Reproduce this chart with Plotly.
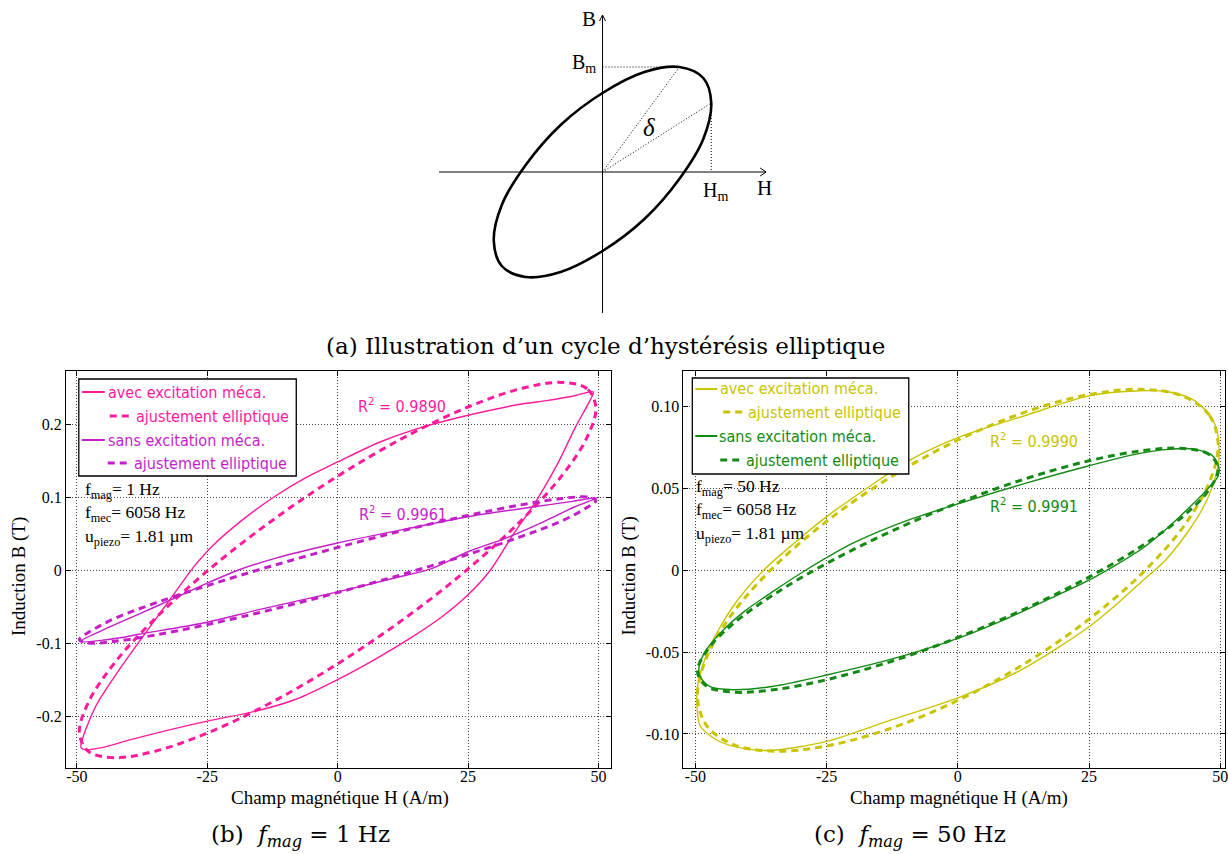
import plotly.graph_objects as go

# ---------------- data ----------------
# (a) illustration ellipse (arbitrary units, H horizontal, B vertical)
ILL_H = [109, 101, 77, 42, 0, -42, -77, -101, -109, -101, -77, -42, 0, 42, 77, 101, 109]
ILL_B = [69, 94, 105, 100, 79, 47, 7, -33, -69, -94, -105, -100, -79, -47, -7, 33, 69]

# (b) f_mag = 1 Hz
B1_AVEC_H = [49.0, 45.0, 40.0, 35.0, 25.0, 15.0, 8.0, 0.0, -6.0, -12.0, -18.0, -24.0, -27.5,
             -32.0, -36.6, -41.9, -46.4, -49.2, -48.5, -45.0, -40.0, -34.0, -25.0, -15.5, -8.0,
             0.0, 7.0, 14.0, 20.0, 25.0, 29.3, 33.4, 38.1, 42.2, 45.6, 48.2, 49.0]
B1_AVEC_B = [0.244, 0.238, 0.232, 0.227, 0.212, 0.193, 0.175, 0.148, 0.127, 0.101, 0.070,
             0.033, 0.005, -0.039, -0.084, -0.137, -0.187, -0.243, -0.246, -0.243, -0.233, -0.222,
             -0.207, -0.193, -0.177, -0.150, -0.123, -0.093, -0.064, -0.034, 0.000, 0.046,
             0.095, 0.146, 0.196, 0.230, 0.244]
B1_AVEC_FIT_H = [49.5, 47.8, 42.9, 35.0, 24.75, 12.8, 0.0, -12.8, -24.75, -35.0, -42.9, -47.8, -49.5,
                 -47.8, -42.9, -35.0, -24.75, -12.8, 0.0, 12.8, 24.75, 35.0, 42.9, 47.8, 49.5]
B1_AVEC_FIT_B = [0.2226, 0.2483, 0.257, 0.2482, 0.2226, 0.1818, 0.1285, 0.0665, 0.0, -0.0665, -0.1285,
                 -0.1817, -0.2226, -0.2483, -0.257, -0.2482, -0.2226, -0.1818, -0.1285, -0.0665, 0.0,
                 0.0665, 0.1285, 0.1817, 0.2226]
B1_SANS_H = [49.7, 45.0, 38.0, 25.0, 15.0, 0.0, -12.0, -19.0, -25.0, -32.0, -38.0, -44.0, -49.4,
             -41.9, -38.1, -25.0, -15.5, 0.0, 10.9, 18.0, 25.0, 32.0, 38.8, 45.6, 49.7]
B1_SANS_B = [0.099, 0.094, 0.087, 0.073, 0.059, 0.037, 0.016, 0.000, -0.018, -0.041, -0.060, -0.079,
             -0.098, -0.093, -0.088, -0.0715, -0.055, -0.030, -0.011, 0.002, 0.025, 0.043, 0.064,
             0.087, 0.099]
B1_SANS_FIT_H = [49.5, 47.8, 42.9, 35.0, 24.75, 12.8, 0.0, -12.8, -24.75, -35.0, -42.9, -47.8, -49.5,
                 -47.8, -42.9, -35.0, -24.75, -12.8, 0.0, 12.8, 24.75, 35.0, 42.9, 47.8, 49.5]
B1_SANS_FIT_B = [0.0951, 0.0999, 0.0978, 0.0891, 0.0743, 0.0545, 0.0309, 0.0052, -0.0208, -0.0454,
                 -0.0669, -0.0857, -0.0951, -0.0999, -0.0978, -0.0891, -0.0743, -0.0545, -0.0309,
                 -0.0052, 0.0208, 0.0454, 0.0669, 0.0857, 0.0951]

# (c) f_mag = 50 Hz
B50_AVEC_H = [49.8, 49.6, 49.1, 48.2, 44.9, 40.0, 34.7, 25.0, 13.3, 0.0, -9.3, -16.0, -25.3, -31.0,
              -37.0, -42.8, -47.3, -49.5, -49.7, -49.1, -45.8, -40.6, -35.4, -25.0, -13.2, 0.0, 12.0,
              25.0, 30.5, 35.0, 39.5, 43.5, 46.7, 48.6, 49.6, 49.8]
B50_AVEC_B = [0.072, 0.081, 0.088, 0.094, 0.104, 0.109, 0.1096, 0.1065, 0.095, 0.081, 0.067, 0.053,
              0.032, 0.017, 0.000, -0.022, -0.047, -0.069, -0.083, -0.095, -0.104, -0.109, -0.110,
              -0.1045, -0.092, -0.078, -0.061, -0.0345, -0.020, -0.007, 0.006, 0.022, 0.038, 0.052,
              0.064, 0.072]
B50_AVEC_FIT_H = [49.6, 47.9, 43.0, 35.1, 24.8, 12.8, 0.0, -12.8, -24.8, -35.1, -43.0, -47.9, -49.6,
                  -47.9, -43.0, -35.1, -24.8, -12.8, 0.0, 12.8, 24.8, 35.1, 43.0, 47.9, 49.6]
B50_AVEC_FIT_B = [0.0768, 0.0947, 0.1062, 0.1105, 0.1072, 0.0966, 0.0795, 0.0569, 0.0304, 0.0019,
                  -0.0267, -0.0536, -0.0768, -0.0947, -0.1062, -0.1105, -0.1072, -0.0966, -0.0795,
                  -0.0569, -0.0304, -0.0019, 0.0267, 0.0536, 0.0768]
B50_SANS_H = [49.7, 48.5, 45.0, 40.0, 33.3, 25.2, 13.3, 0.0, -10.0, -20.0, -29.0, -35.0, -40.6, -45.0,
              -48.0, -49.3, -49.1, -47.3, -42.8, -35.4, -25.0, -13.2, 0.0, 9.0, 16.4, 25.0, 30.0,
              35.0, 40.0, 44.0, 47.7, 49.5, 49.7]
B50_SANS_B = [0.063, 0.070, 0.0740, 0.0738, 0.0705, 0.064, 0.0535, 0.0405, 0.030, 0.0165, 0.000,
              -0.0125, -0.025, -0.0375, -0.049, -0.059, -0.065, -0.071, -0.073, -0.071, -0.064,
              -0.0548, -0.0416, -0.030, -0.019, -0.006, 0.003, 0.013, 0.026, 0.038, 0.050, 0.057,
              0.063]
B50_SANS_FIT_H = [49.6, 47.9, 43.0, 35.1, 24.8, 12.8, 0.0, -12.8, -24.8, -35.1, -43.0, -47.9, -49.6,
                  -47.9, -43.0, -35.1, -24.8, -12.8, 0.0, 12.8, 24.8, 35.1, 43.0, 47.9, 49.6]
B50_SANS_FIT_B = [0.0621, 0.0707, 0.0744, 0.0730, 0.0667, 0.0558, 0.0411, 0.0236, 0.0045, -0.0149,
                  -0.0332, -0.0494, -0.0621, -0.0707, -0.0744, -0.0730, -0.0667, -0.0558, -0.0411,
                  -0.0236, -0.0045, 0.0149, 0.0332, 0.0494, 0.0621]

X_TICKS = [-50, -25, 0, 25, 50]
X_TICKTEXT = ["-50", "-25", "0", "25", "50"]
Y1_TICKS = [-0.2, -0.1, 0, 0.1, 0.2]
Y1_TICKTEXT = ["-0.2", "-0.1", "0", "0.1", "0.2"]
Y2_TICKS = [-0.10, -0.05, 0, 0.05, 0.10]
Y2_TICKTEXT = ["-0.10", "-0.05", "0", "0.05", "0.10"]

R2_B = ["0.9890", "0.9961"]
R2_C = ["0.9990", "0.9991"]

# ---------------- style ----------------
PINK = "#ff1a9c"
PURPLE = "#c41ec8"
YELLOW = "#c8c400"
GREEN = "#138a13"
SERIF = "Liberation Serif, Times New Roman, serif"
SANS = "DejaVu Sans Condensed, Liberation Sans Narrow, Liberation Sans, sans-serif"
CM = "DejaVu Serif, Liberation Serif, serif"
CM_SMALL = "Liberation Serif, DejaVu Serif, serif"

W, HGT = 1228, 854
NB = "\u00a0"


def px(x):
    return x / W


def py(y):
    return 1 - y / HGT


fig = go.Figure()

SOLID_W = 1.4
DASH_W = 3.0
DASH = "7px,5px"


def add_curve(h, b, color, dashed, xa, ya):
    fig.add_trace(go.Scatter(
        x=h, y=b, mode="lines", xaxis=xa, yaxis=ya, showlegend=False, hoverinfo="skip",
        line=dict(color=color, width=DASH_W if dashed else SOLID_W,
                  dash=DASH if dashed else "solid", shape="spline",
                  smoothing=1.0 if dashed else 0.8)))


# (b)
add_curve(B1_AVEC_H, B1_AVEC_B, PINK, False, "x", "y")
add_curve(B1_AVEC_FIT_H, B1_AVEC_FIT_B, PINK, True, "x", "y")
add_curve(B1_SANS_H, B1_SANS_B, PURPLE, False, "x", "y")
add_curve(B1_SANS_FIT_H, B1_SANS_FIT_B, PURPLE, True, "x", "y")
# (c)
add_curve(B50_AVEC_H, B50_AVEC_B, YELLOW, False, "x2", "y2")
add_curve(B50_AVEC_FIT_H, B50_AVEC_FIT_B, YELLOW, True, "x2", "y2")
add_curve(B50_SANS_H, B50_SANS_B, GREEN, False, "x2", "y2")
add_curve(B50_SANS_FIT_H, B50_SANS_FIT_B, GREEN, True, "x2", "y2")
# (a)
fig.add_trace(go.Scatter(x=ILL_H, y=ILL_B, mode="lines", xaxis="x3", yaxis="y3", showlegend=False,
                         hoverinfo="skip",
                         line=dict(color="black", width=2.6, shape="spline", smoothing=1.0)))

axis_common = dict(showline=True, linecolor="black", linewidth=1, mirror="allticks",
                   ticks="inside", ticklen=5, tickcolor="black", showgrid=True,
                   gridcolor="#444444", griddash="1px,2px", gridwidth=1, zeroline=False,
                   tickfont=dict(family=SERIF, size=16, color="black"))

fig.update_layout(
    width=W, height=HGT, margin=dict(l=0, r=0, t=0, b=0),
    paper_bgcolor="white", plot_bgcolor="white", showlegend=False,
    xaxis=dict(domain=[px(66), px(612)], range=[-52.1, 52.3], anchor="y",
               tickvals=X_TICKS, ticktext=X_TICKTEXT, ticklabelstandoff=-6, **axis_common),
    yaxis=dict(domain=[py(768), py(371)], range=[-0.2712, 0.2726], anchor="x",
               tickvals=Y1_TICKS, ticktext=Y1_TICKTEXT, **axis_common),
    xaxis2=dict(domain=[px(685), 1.0], range=[-52.3, 50.9], anchor="y2",
                tickvals=X_TICKS, ticktext=X_TICKTEXT, ticklabelstandoff=-6,
                ticklabeloverflow="allow", **axis_common),
    yaxis2=dict(domain=[py(768), py(371)], range=[-0.1208, 0.1217], anchor="x2",
                tickvals=Y2_TICKS, ticktext=Y2_TICKTEXT, **axis_common),
    xaxis3=dict(domain=[px(440), px(768)], range=[-164, 164], anchor="y3", visible=False),
    yaxis3=dict(domain=[py(320), py(10)], range=[-148, 162], anchor="x3", visible=False),
)

shapes = []
annots = []

# ---------- illustration (a) ----------
shapes.append(dict(type="line", xref="x3", yref="y3", x0=-164, y0=0, x1=164, y1=0,
                   line=dict(color="black", width=1)))
shapes.append(dict(type="line", xref="x3", yref="y3", x0=0, y0=-141, x1=0, y1=157,
                   line=dict(color="black", width=1)))
shapes.append(dict(type="path", xref="x3", yref="y3", path="M 158,4 L 164,0 L 158,-4",
                   line=dict(color="black", width=1)))
shapes.append(dict(type="path", xref="x3", yref="y3", path="M -3,151 L 0,157 L 3,151",
                   line=dict(color="black", width=1)))
i_top = ILL_B.index(max(ILL_B))
i_right = ILL_H.index(max(ILL_H))
Hb, Bm = ILL_H[i_top], ILL_B[i_top]
Hm, Bh = ILL_H[i_right], ILL_B[i_right]
dot = dict(color="black", width=1, dash="1px,2px")
shapes += [
    dict(type="line", xref="x3", yref="y3", x0=0, y0=Bm, x1=Hb, y1=Bm, line=dot),
    dict(type="line", xref="x3", yref="y3", x0=Hm, y0=Bh, x1=Hm, y1=0, line=dot),
    dict(type="line", xref="x3", yref="y3", x0=0, y0=0, x1=Hb, y1=Bm, line=dot),
    dict(type="line", xref="x3", yref="y3", x0=0, y0=0, x1=Hm, y1=Bh, line=dot),
]
ill_font = dict(family=CM_SMALL, size=21, color="black")
annots += [
    dict(xref="x3", yref="y3", x=-5, y=153, text="B", showarrow=False, xanchor="right",
         yanchor="middle", font=ill_font),
    dict(xref="x3", yref="y3", x=162, y=-16, text="H", showarrow=False, xanchor="center",
         yanchor="middle", font=ill_font),
    dict(xref="x3", yref="y3", x=-5, y=Bm + 4, text="B<sub>m</sub>", showarrow=False,
         xanchor="right", yanchor="middle", font=dict(family=CM_SMALL, size=20, color="black")),
    dict(xref="x3", yref="y3", x=Hm + 4, y=-19, text="H<sub>m</sub>", showarrow=False,
         xanchor="center", yanchor="middle", font=dict(family=CM_SMALL, size=20, color="black")),
    dict(xref="x3", yref="y3", x=47, y=45, text="<i>δ</i>", showarrow=False,
         xanchor="center", yanchor="middle", font=dict(family=CM_SMALL, size=25, color="black")),
]

# ---------- legends ----------
LEG_FONT = 16


def add_legend(box, rows):
    x0, y0, x1, y1 = box
    shapes.append(dict(type="rect", xref="paper", yref="paper", x0=px(x0), y0=py(y0),
                       x1=px(x1), y1=py(y1), line=dict(color="black", width=1.3),
                       fillcolor="white", layer="above"))
    for color, dashed, text, lx0, lx1, tx, y in rows:
        shapes.append(dict(type="line", xref="paper", yref="paper", x0=px(lx0), y0=py(y),
                           x1=px(lx1), y1=py(y), layer="above",
                           line=dict(color=color, width=DASH_W if dashed else 2,
                                     dash=DASH if dashed else "solid")))
        annots.append(dict(xref="paper", yref="paper", x=px(tx), y=py(y), text=text,
                           showarrow=False, xanchor="left", yanchor="middle",
                           font=dict(family=SANS, size=LEG_FONT, color=color)))


add_legend((79, 379, 297, 476), [
    (PINK, False, "avec excitation méca.", 82, 105, 106, 392),
    (PINK, True, "ajustement elliptique", 110, 133, 134, 416),
    (PURPLE, False, "sans excitation méca.", 82, 105, 106, 440),
    (PURPLE, True, "ajustement elliptique", 108, 131, 132, 463),
])
add_legend((694, 378, 911, 474), [
    (YELLOW, False, "avec excitation méca.", 697, 719, 720, 389),
    (YELLOW, True, "ajustement elliptique", 725, 747, 748, 412),
    (GREEN, False, "sans excitation méca.", 697, 719, 719, 436),
    (GREEN, True, "ajustement elliptique", 722, 745, 746, 460),
])


# ---------- parameter text ----------
def add_params(x, ys, fmag):
    lines = ["f<sub>mag</sub>= %s" % fmag, "f<sub>mec</sub>= 6058 Hz",
             "u<sub>piezo</sub>= 1.81 µm"]
    for t, y in zip(lines, ys):
        annots.append(dict(xref="paper", yref="paper", x=px(x), y=py(y), text=t,
                           showarrow=False, xanchor="left", yanchor="middle",
                           font=dict(family=SERIF, size=17.5, color="black")))


add_params(83, [490, 513, 537], "1 Hz")
add_params(696, [487, 510, 534], "50 Hz")

# ---------- R² ----------
for txt, color, (x, y) in [(R2_B[0], PINK, (403, 405)), (R2_B[1], PURPLE, (404, 513)),
                           (R2_C[0], YELLOW, (1037, 440)), (R2_C[1], GREEN, (1037, 505))]:
    annots.append(dict(xref="paper", yref="paper", x=px(x), y=py(y),
                       text="R<sup>2</sup> = " + txt, showarrow=False, xanchor="center",
                       yanchor="middle", font=dict(family=SANS, size=LEG_FONT, color=color)))

# ---------- axis titles ----------
for xc in (341, 961):
    annots.append(dict(xref="paper", yref="paper", x=px(xc), y=py(798),
                       text="Champ magnétique H (A/m)", showarrow=False, xanchor="center",
                       yanchor="middle", font=dict(family=SERIF, size=19, color="black")))
for xc in (19, 631):
    annots.append(dict(xref="paper", yref="paper", x=px(xc), y=py(576),
                       text="Induction B (T)", showarrow=False, textangle=-90,
                       xanchor="center", yanchor="middle",
                       font=dict(family=SERIF, size=19, color="black")))

# ---------- captions ----------
cap_font = dict(family=CM, size=23, color="black")
annots += [
    dict(xref="paper", yref="paper", x=px(607), y=py(346),
         text="(a) Illustration d’un cycle d’hystérésis elliptique", showarrow=False,
         xanchor="center", yanchor="middle", font=cap_font),
    dict(xref="paper", yref="paper", x=px(301), y=py(836),
         text="(b)" + NB * 2 + "<i>f<sub>mag</sub></i>" + NB + "=" + NB + "1" + NB + "Hz",
         showarrow=False, xanchor="center", yanchor="middle", font=cap_font),
    dict(xref="paper", yref="paper", x=px(912), y=py(836),
         text="(c)" + NB * 2 + "<i>f<sub>mag</sub></i>" + NB + "=" + NB + "50" + NB + "Hz",
         showarrow=False, xanchor="center", yanchor="middle", font=cap_font),
]

fig.update_layout(shapes=shapes, annotations=annots)
fig.write_html("out.html", config={"displayModeBar": False},
               post_script="document.body.style.margin='0';"
                           "document.body.style.overflow='hidden';"
                           "document.documentElement.style.overflow='hidden';"
                           "var gd=document.getElementById('{plot_id}');"
                           "gd.style.overflow='hidden';"
                           "if(gd.parentElement){gd.parentElement.style.overflow='hidden';"
                           "gd.parentElement.style.width='1228px';}"
                           "window.scrollTo(0,0);")
